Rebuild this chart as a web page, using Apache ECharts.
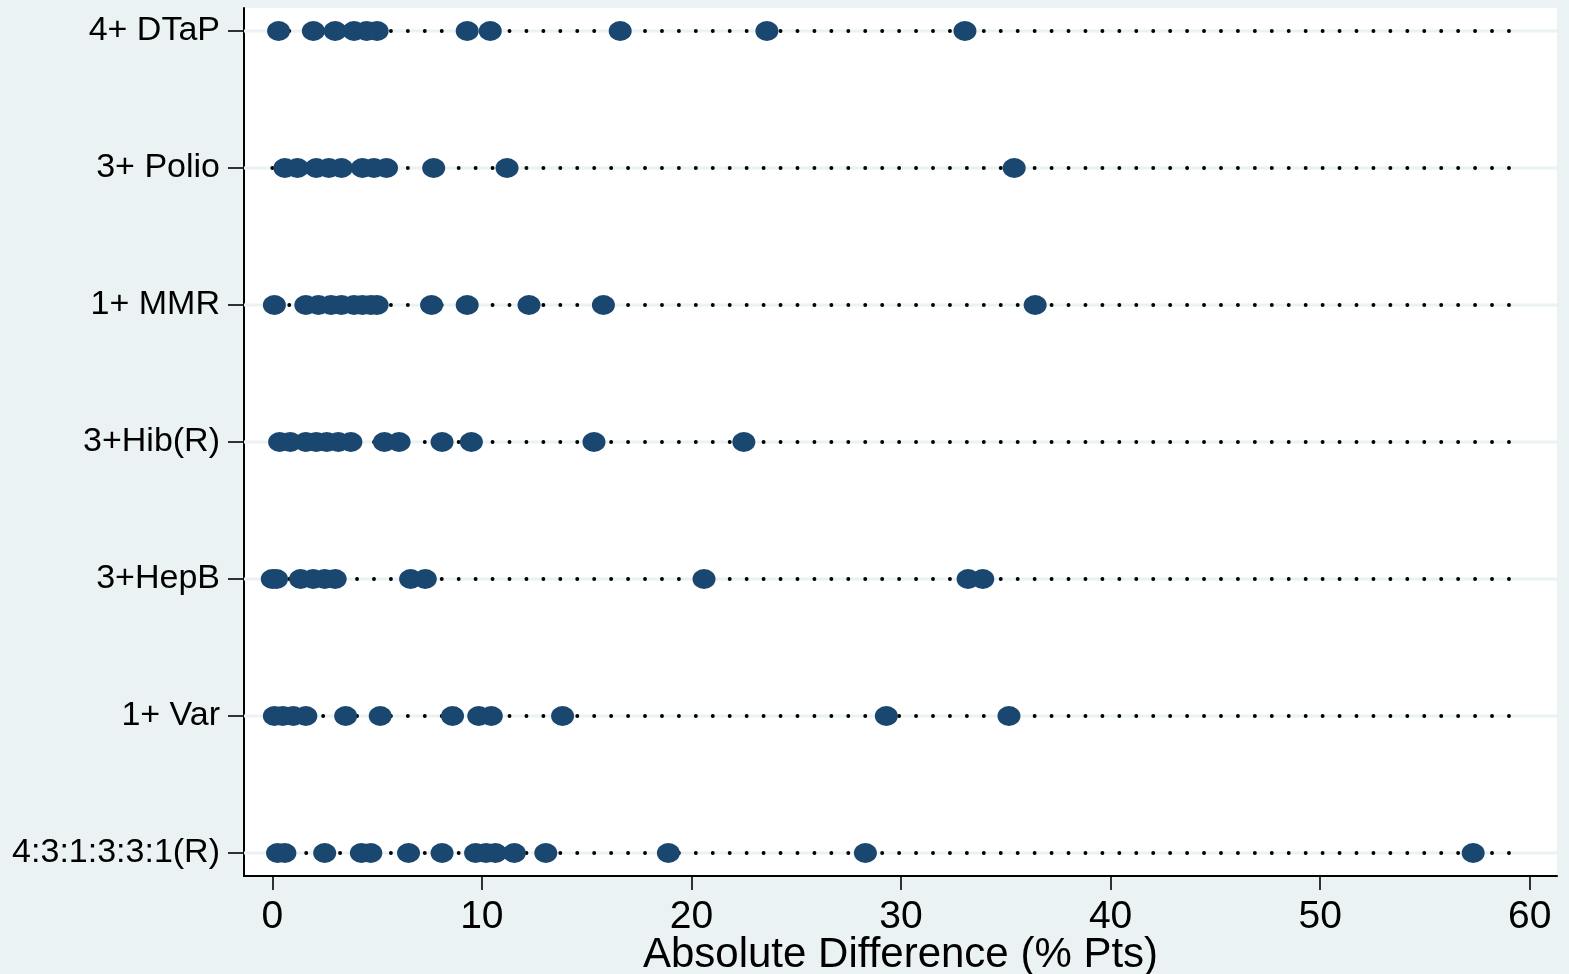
<!DOCTYPE html>
<html>
<head>
<meta charset="utf-8">
<script src="https://cdn.jsdelivr.net/npm/echarts@6/dist/echarts.min.js"></script>
<style>
  html, body { margin: 0; padding: 0; background: #eaf2f3; }
  #chart { width: 1569px; height: 974px; }
</style>
</head>
<body>
<div id="chart"></div>
<script>
// Vaccine measures, top to bottom
const vaccines = ['4+ DTaP', '3+ Polio', '1+ MMR', '3+Hib(R)', '3+HepB', '1+ Var', '4:3:1:3:3:1(R)'];

// Absolute difference (% points) per measure
const dtapVals  = [0.3, 1.96, 3.0, 3.9, 4.5, 5.0, 9.3, 10.4, 16.6, 23.6, 33.05];
const polioVals = [0.6, 1.2, 2.1, 2.7, 3.3, 4.3, 4.85, 5.45, 7.7, 11.2, 35.4];
const mmrVals   = [0.1, 1.6, 2.2, 2.8, 3.3, 3.9, 4.3, 4.7, 5.0, 7.6, 9.3, 12.25, 15.8, 36.4];
const hibVals   = [0.35, 0.86, 1.6, 2.1, 2.6, 3.15, 3.75, 5.35, 6.05, 8.1, 9.5, 15.35, 22.5];
const hepbVals  = [0.0, 0.2, 1.35, 1.95, 2.5, 3.0, 6.6, 7.3, 20.6, 33.2, 33.9];
const varVals   = [0.1, 0.5, 1.0, 1.6, 3.5, 5.15, 8.6, 9.85, 10.45, 13.85, 29.3, 35.15];
const seriesVals = [0.25, 0.6, 2.5, 4.25, 4.7, 6.5, 8.1, 9.7, 10.2, 10.65, 11.55, 13.05, 18.9, 28.3, 57.3];

const rows = [dtapVals, polioVals, mmrVals, hibVals, hepbVals, varVals, seriesVals];

// Axis ticks
const xTicks = [0, 10, 20, 30, 40, 50, 60];
const yTicks = [0, 1, 2, 3, 4, 5, 6];

// Axis extent and dotted guide extent
const xMin = -1.35, xMax = 61.3;
const dotStart = 0, dotEnd = 59.1;
const yMin = -0.168, yMax = 6.168;

const FONT = "'Liberation Sans', Arial, sans-serif";
const NAVY = '#1a476f';
const GRID_BLUE = '#eaf2f3';

const series = [];
rows.forEach((vals, i) => {
  // light horizontal grid line across the plot
  series.push({
    type: 'line', silent: true, symbol: 'none', z: 1,
    data: [[xMin, i], [xMax, i]],
    lineStyle: { color: GRID_BLUE, width: 3 }
  });
  // dotted guide
  series.push({
    type: 'line', silent: true, symbol: 'none', z: 2,
    data: [[dotStart, i], [dotEnd, i]],
    lineStyle: { color: '#000', width: 3.8, type: [0.1, 16.84], cap: 'round' }
  });
  // markers
  series.push({
    type: 'scatter', z: 3,
    name: vaccines[i],
    data: vals.map(v => [v, i]),
    symbol: 'circle',
    symbolSize: [23, 20],
    itemStyle: { color: NAVY, opacity: 1 }
  });
});

const chart = echarts.init(document.getElementById('chart'), null, { renderer: 'canvas' });
chart.setOption({
  animation: false,
  backgroundColor: GRID_BLUE,
  grid: {
    left: 244, right: 12, top: 8, bottom: 98,
    outerBoundsMode: 'none',
    containLabel: false,
    show: true, backgroundColor: '#ffffff', borderWidth: 0
  },
  xAxis: {
    type: 'value', min: xMin, max: xMax,
    name: 'Absolute Difference (% Pts)',
    nameLocation: 'middle', nameGap: 58,
    nameMoveOverlap: false,
    nameTextStyle: { fontFamily: FONT, fontSize: 42, color: '#000' },
    axisLine: { show: true, onZero: false, lineStyle: { color: '#000', width: 2 } },
    axisTick: { show: true, customValues: xTicks, length: 14, lineStyle: { color: '#000', width: 1.6 } },
    axisLabel: { customValues: xTicks, margin: 22, fontFamily: FONT, fontSize: 39, color: '#000' },
    splitLine: { show: false }
  },
  yAxis: {
    type: 'value', inverse: true, min: yMin, max: yMax,
    axisLine: { show: true, onZero: false, lineStyle: { color: '#000', width: 2 } },
    axisTick: { show: true, customValues: yTicks, length: 16, lineStyle: { color: '#000', width: 1.6 } },
    axisLabel: {
      customValues: yTicks, margin: 24,
      fontFamily: FONT, fontSize: 34, color: '#000',
      formatter: v => vaccines[Math.round(v)] || ''
    },
    splitLine: { show: false }
  },
  series: series
});
</script>
</body>
</html>
